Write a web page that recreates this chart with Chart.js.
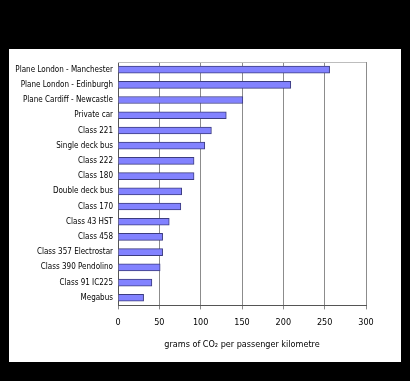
<!DOCTYPE html>
<html>
<head>
<meta charset="utf-8">
<script src="https://cdn.jsdelivr.net/npm/chart.js@4"></script>
<style>
  html, body { margin: 0; padding: 0; background: #000; }
  body { width: 410px; height: 381px; position: relative; overflow: hidden; }
  #panel { position: absolute; left: 9px; top: 49px; width: 392px; height: 313px; background: #fff; }
  #chart { display: block; }
</style>
</head>
<body>
<div id="panel"><canvas id="chart" width="392" height="313"></canvas></div>
<script>
// modes of transport, top to bottom
const modes = [
  "Plane London - Manchester",
  "Plane London - Edinburgh",
  "Plane Cardiff - Newcastle",
  "Private car",
  "Class 221",
  "Single deck bus",
  "Class 222",
  "Class 180",
  "Double deck bus",
  "Class 170",
  "Class 43 HST",
  "Class 458",
  "Class 357 Electrostar",
  "Class 390 Pendolino",
  "Class 91 IC225",
  "Megabus"
];

// grams of CO2 per passenger km
const gramsPerKm = [256, 209, 151, 131, 113, 105, 92, 92, 77, 76, 62, 54, 54, 51, 41, 31];

const xTicks = [0, 50, 100, 150, 200, 250, 300];

const labelFont = "'DejaVu Sans Condensed', 'DejaVu Sans', sans-serif";

// light frame line along the top of the plot
const topLine = {
  id: 'topLine',
  afterDraw(chart) {
    const { ctx, chartArea } = chart;
    ctx.save();
    ctx.strokeStyle = '#bdbdbd';
    ctx.lineWidth = 1;
    ctx.beginPath();
    ctx.moveTo(chartArea.left, chartArea.top + 0.5);
    ctx.lineTo(chartArea.right, chartArea.top + 0.5);
    ctx.stroke();
    ctx.restore();
  }
};

new Chart(document.getElementById('chart').getContext('2d'), {
  type: 'bar',
  data: {
    labels: modes,
    datasets: [{
      data: gramsPerKm,
      backgroundColor: '#8282ff',
      borderColor: '#3c3c80',
      borderWidth: 1,
      barThickness: 7
    }]
  },
  options: {
    indexAxis: 'y',
    responsive: false,
    animation: false,
    layout: { padding: { left: 0, top: 13, right: 35, bottom: 8 } },
    plugins: { legend: { display: false }, tooltip: { enabled: false } },
    scales: {
      x: {
        min: 0,
        max: 300,
        afterBuildTicks(axis) { axis.ticks = xTicks.map(v => ({ value: v })); },
        grid: { color: '#8c8c8c', tickLength: 4, drawTicks: true },
        border: { color: '#555', width: 1 },
        ticks: { color: '#000', padding: 8, font: { family: labelFont, size: 9 } },
        title: {
          display: true,
          text: 'grams of CO\u2082 per passenger kilometre',
          color: '#000',
          padding: { top: 3 },
          font: { family: labelFont, size: 9 }
        }
      },
      y: {
        grid: { display: false, drawTicks: false, tickLength: 0 },
        border: { color: '#555', width: 1 },
        afterFit(axis) { axis.width = 109; },
        ticks: { color: '#000', padding: 5, autoSkip: false, font: { family: labelFont, size: 8 } }
      }
    }
  },
  plugins: [topLine]
});
</script>
</body>
</html>
